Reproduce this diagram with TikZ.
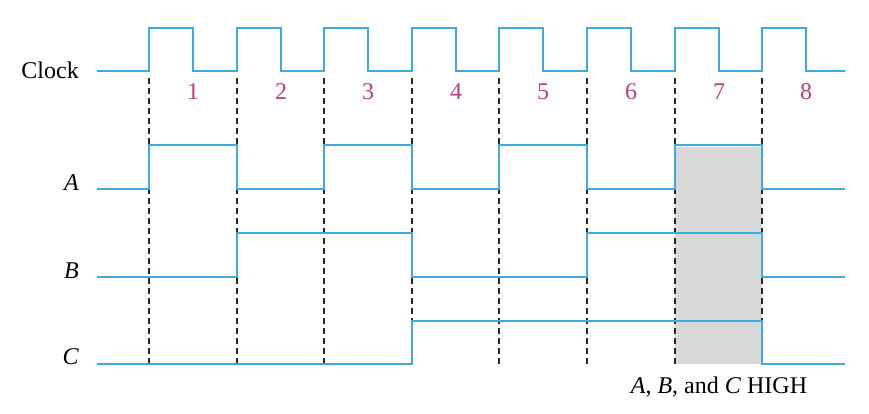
\documentclass[tikz,border=0pt]{standalone}
\usepackage{fontspec}
\setmainfont{Liberation Serif}
\usepackage{xcolor}
\usetikzlibrary{positioning,calc}
\definecolor{wireblue}{RGB}{62,170,222}
\definecolor{pulsenum}{RGB}{188,62,128}
\definecolor{boxgray}{RGB}{216,216,216}
\begin{document}
\begin{tikzpicture}
		[x=1pt,y=-1pt,
		every node/.style={font=\fontsize{24}{28}\selectfont,inner sep=0pt},
		wave/.style={draw=wireblue,line width=2.4pt,line join=miter},
		tick/.style={draw=black!85,line width=2pt,dash pattern=on 6pt off 4pt},
		sig/.style={anchor=base east},
		pulse/.style={anchor=base,text=pulsenum}]
		\useasboundingbox (0,0) rectangle (869,413);
		% shaded interval 7
		\fill[boxgray] (675,147) rectangle (762,364);
		% clock edges
		\foreach \t in {149,237,324,412,499,587,675,762}
			\draw[tick] (\t,78) -- (\t,365);
		\foreach \f [count=\k] in {193,281,368,456,543,631,719,806}
			\node[pulse] (n\k) at (\f,99) {\k};
		% waveforms
		\draw[wave] (97,71) foreach \t/\f in {149/193,237/281,324/368,412/456,499/543,587/631,675/719,762/806} {
			-- (\t,71) -- (\t,28) -- (\f,28) -- (\f,71)} -- (845,71);
		\draw[wave] (97,189) -- (149,189) -- (149,145) -- (237,145) -- (237,189)
			-- (324,189) -- (324,145) -- (412,145) -- (412,189)
			-- (499,189) -- (499,145) -- (587,145) -- (587,189)
			-- (675,189) -- (675,145) -- (762,145) -- (762,189) -- (845,189);
		\draw[wave] (97,277) -- (237,277) -- (237,233) -- (412,233) -- (412,277)
			-- (587,277) -- (587,233) -- (762,233) -- (762,277) -- (845,277);
		\draw[wave] (97,364) -- (412,364) -- (412,321) -- (762,321) -- (762,364)
			-- (845,364);
		\node[sig] (lclock) at (79,78) {Clock};
		\node[sig] (la) at (79,190) {\textit{A}};
		\node[sig] (lb) at (79,278) {\textit{B}};
		\node[sig] (lc) at (79,364) {\textit{C}};
		\node[anchor=base] (high) at (719,393) {\textit{A}, \textit{B}, and \textit{C} HIGH};
\end{tikzpicture}
\end{document}
